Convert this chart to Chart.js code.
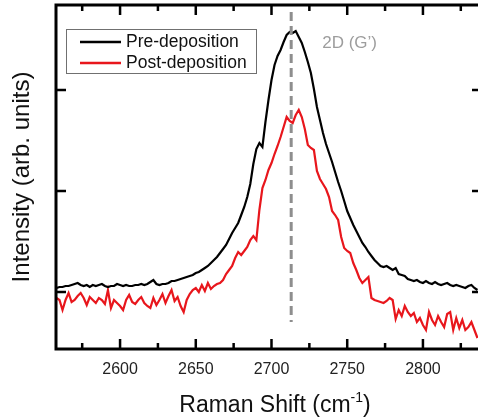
<!DOCTYPE html>
<html>
<head>
<meta charset="utf-8">
<script src="https://cdn.jsdelivr.net/npm/chart.js@4"></script>
<style>
  html, body { margin: 0; padding: 0; background: #fff; overflow: hidden; }
  #wrap { width: 482px; height: 419px; }
</style>
</head>
<body>
<div id="wrap"><canvas id="ramanChart" width="482" height="419"></canvas></div>
<script>
/* ===========================
Data
=========================== */

const shift = [
    2558, 2560, 2562, 2564, 2566, 2568, 2570, 2572, 2574, 2576,
    2578, 2580, 2582, 2584, 2586, 2588, 2590, 2592, 2594, 2596,
    2598, 2600, 2602, 2604, 2606, 2608, 2610, 2612, 2614, 2616,
    2618, 2620, 2622, 2624, 2626, 2628, 2630, 2632, 2634, 2636,
    2638, 2640, 2642, 2644, 2646, 2648, 2650, 2652, 2654, 2656,
    2658, 2660, 2662, 2664, 2666, 2668, 2670, 2672, 2674, 2676,
    2678, 2680, 2682, 2684, 2686, 2688, 2690, 2692, 2694, 2696,
    2698, 2700, 2702, 2704, 2706, 2708, 2710, 2712, 2714, 2716,
    2718, 2720, 2722, 2724, 2726, 2728, 2730, 2732, 2734, 2736,
    2738, 2740, 2742, 2744, 2746, 2748, 2750, 2752, 2754, 2756,
    2758, 2760, 2762, 2764, 2766, 2768, 2770, 2772, 2774, 2776,
    2778, 2780, 2782, 2784, 2786, 2788, 2790, 2792, 2794, 2796,
    2798, 2800, 2802, 2804, 2806, 2808, 2810, 2812, 2814, 2816,
    2818, 2820, 2822, 2824, 2826, 2828, 2830, 2832, 2834, 2836
];

const preDeposition = [
    61, 62, 62, 63, 63, 64, 65, 66, 64, 63,
    64, 62, 64, 63, 64, 65, 63, 62, 63, 63,
    65, 64, 63, 64, 63, 63, 64, 64, 65, 64,
    65, 67, 69, 65, 64, 65, 65, 66, 68, 68,
    69, 70, 71, 72, 73, 74, 76, 77, 79, 81,
    83, 86, 89, 92, 96, 100, 104, 110, 116, 121,
    126, 134, 142, 152, 165, 185, 200, 206, 202, 227,
    249, 269, 284, 293, 299, 307, 314, 317, 316, 318,
    312, 306, 297, 287, 276, 260, 242, 229, 216, 205,
    196, 187, 177, 167, 158, 148, 138, 131, 124, 118,
    112, 106, 102, 97, 93, 89, 86, 83, 82, 83,
    81, 79, 81, 75, 74, 73, 70, 69, 68, 69,
    67, 66, 68, 66, 65, 67, 65, 64, 65, 66,
    64, 63, 64, 63, 62, 61, 63, 64, 61, 59
];

const postDeposition = [
    51, 49, 39, 49, 56, 47, 49, 53, 56, 51,
    44, 52, 49, 46, 51, 49, 45, 59, 41, 49,
    46, 43, 39, 49, 54, 47, 45, 49, 52, 46,
    43, 41, 51, 44, 49, 55, 46, 53, 59, 48,
    52, 43, 37, 49, 55, 59, 61, 57, 64, 58,
    66, 60, 63, 65, 66, 69, 75, 79, 83, 91,
    97, 94, 98, 102, 109, 113, 109, 139, 161, 169,
    179, 186, 195, 203, 212, 222, 232, 228, 226, 234,
    239, 232, 220, 204, 201, 199, 178, 170, 165, 160,
    152, 138, 134, 129, 112, 101, 98, 96, 86, 79,
    71, 66, 69, 72, 51, 49, 48, 47, 46, 48,
    51, 49, 30, 39, 33, 43, 37, 33, 36, 27,
    31, 24, 19, 37, 29, 24, 33, 27, 22, 35,
    37, 19, 31, 21, 29, 19, 22, 27, 19, 11
];

// 2D (G') peak marker
const peakShift = [2713, 2713];
const peakSpan = [337, 27];

const xMajorTicks = [2600, 2650, 2700, 2750, 2800];
const xMinorTicks = [2575, 2625, 2675, 2725, 2775, 2825];
const yTicks = [57, 158, 259];

const xRange = [2557.7, 2839];
const yRange = [0, 344];

const FONT = "'Liberation Sans', Arial, sans-serif";

/* ===========================
Frame, ticks, legend, labels
=========================== */

const decorPlugin = {

    id: "decor",

    afterDraw(chart) {

        const { ctx, chartArea: a, scales: { x, y } } = chart;

        ctx.save();

        // frame
        ctx.strokeStyle = "#000";
        ctx.lineWidth = 3;
        ctx.strokeRect(a.left, a.top, a.right - a.left, a.bottom - a.top);

        // inward tick marks
        ctx.lineWidth = 2.5;
        ctx.beginPath();

        xMajorTicks.forEach(v => {
            const px = x.getPixelForValue(v);
            ctx.moveTo(px, a.bottom); ctx.lineTo(px, a.bottom - 10);
            ctx.moveTo(px, a.top); ctx.lineTo(px, a.top + 10);
        });

        xMinorTicks.forEach(v => {
            const px = x.getPixelForValue(v);
            ctx.moveTo(px, a.bottom); ctx.lineTo(px, a.bottom - 6);
            ctx.moveTo(px, a.top); ctx.lineTo(px, a.top + 6);
        });

        yTicks.forEach(v => {
            const py = y.getPixelForValue(v);
            ctx.moveTo(a.left, py); ctx.lineTo(a.left + 10, py);
            ctx.moveTo(a.right, py); ctx.lineTo(a.right - 10, py);
        });

        ctx.stroke();

        // peak label
        ctx.fillStyle = "#9d9d9d";
        ctx.font = "17px " + FONT;
        ctx.textAlign = "left";
        ctx.textBaseline = "middle";
        ctx.fillText("2D (G\u2019)", x.getPixelForValue(2733.5), y.getPixelForValue(306));

        // legend box
        const bx = 66, by = 29, bw = 190, bh = 44;
        ctx.fillStyle = "#fff";
        ctx.fillRect(bx, by, bw, bh);
        ctx.strokeStyle = "#707070";
        ctx.lineWidth = 1;
        ctx.strokeRect(bx + 0.5, by + 0.5, bw, bh);

        ctx.font = "17.5px " + FONT;
        ctx.fillStyle = "#111";

        chart.data.datasets.slice(0, 2).forEach((ds, i) => {
            const ly = by + 13 + i * 21;
            ctx.strokeStyle = ds.borderColor;
            ctx.lineWidth = 2.5;
            ctx.beginPath();
            ctx.moveTo(bx + 14, ly);
            ctx.lineTo(bx + 55, ly);
            ctx.stroke();
            ctx.fillText(ds.label, bx + 60, ly);
        });

        // x axis title with superscript
        const mainFont = "23px " + FONT;
        const supFont = "14px " + FONT;
        const t1 = "Raman Shift (cm", t2 = "-1", t3 = ")";
        ctx.font = mainFont;
        const w1 = ctx.measureText(t1).width;
        const w3 = ctx.measureText(t3).width;
        ctx.font = supFont;
        const w2 = ctx.measureText(t2).width;
        let tx = 275 - (w1 + w2 + w3) / 2;
        const ty = 412;
        ctx.fillStyle = "#111";
        ctx.textBaseline = "alphabetic";
        ctx.font = mainFont;
        ctx.fillText(t1, tx, ty);
        tx += w1;
        ctx.font = supFont;
        ctx.fillText(t2, tx, ty - 10);
        tx += w2;
        ctx.font = mainFont;
        ctx.fillText(t3, tx, ty);

        ctx.restore();

    }

};

/* ===========================
Raman Chart
=========================== */

const ramanCtx = document.getElementById("ramanChart");

new Chart(ramanCtx, {

    type: "line",

    data: {

        datasets: [
            {
                label: "Pre-deposition",
                data: shift.map((s, i) => ({ x: s, y: preDeposition[i] })),
                borderColor: "#000000",
                borderWidth: 2.2,
                pointRadius: 0,
                tension: 0,
                order: 1
            },
            {
                label: "Post-deposition",
                data: shift.map((s, i) => ({ x: s, y: postDeposition[i] })),
                borderColor: "#e8161c",
                borderWidth: 2.2,
                pointRadius: 0,
                tension: 0,
                order: 2
            },
            {
                label: "2D (G\u2019)",
                data: peakShift.map((s, i) => ({ x: s, y: peakSpan[i] })),
                borderColor: "#8e8e8e",
                borderWidth: 3,
                borderDash: [9, 5],
                pointRadius: 0,
                order: 0
            }
        ]

    },

    options: {

        responsive: false,
        animation: false,
        devicePixelRatio: 1,

        layout: {
            padding: { top: 5, left: 0, right: 0, bottom: 0 }
        },

        plugins: {
            legend: { display: false },
            tooltip: { enabled: false }
        },

        scales: {

            x: {
                type: "linear",
                min: xRange[0],
                max: xRange[1],
                grid: { display: false, drawTicks: true, tickLength: 8 },
                border: { display: false },
                afterBuildTicks: scale => {
                    scale.ticks = xMajorTicks.map(v => ({ value: v }));
                },
                afterFit: scale => { scale.height = 70; },
                ticks: {
                    autoSkip: false,
                    maxRotation: 0,
                    padding: 3,
                    color: "#222",
                    font: { family: FONT, size: 16 },
                    callback: v => String(v)
                }
            },

            y: {
                min: yRange[0],
                max: yRange[1],
                grid: { display: false },
                border: { display: false },
                afterBuildTicks: scale => {
                    scale.ticks = yTicks.map(v => ({ value: v }));
                },
                afterFit: scale => { scale.width = 56; },
                ticks: { display: false },
                title: {
                    display: true,
                    text: "Intensity (arb. units)",
                    color: "#111",
                    font: { family: FONT, size: 24 },
                    padding: { top: 8, bottom: 0 }
                }
            }

        }

    },

    plugins: [decorPlugin]

});
</script>
</body>
</html>
